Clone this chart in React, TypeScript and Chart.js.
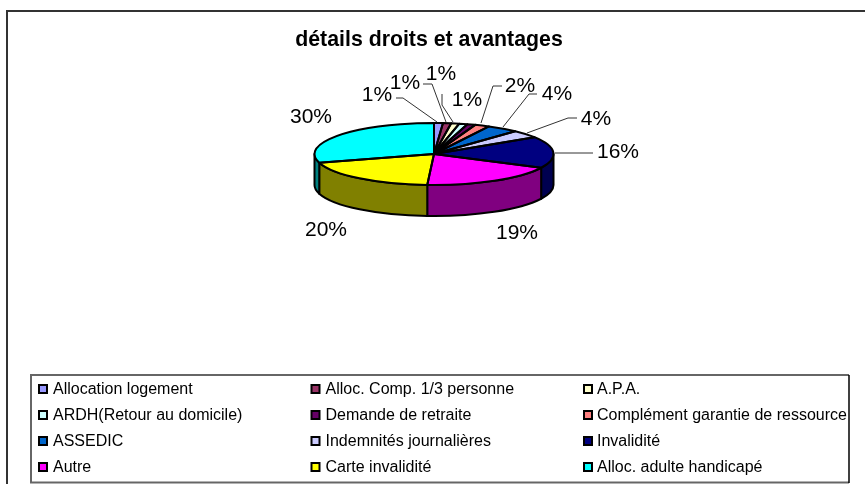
import React, { useEffect, useRef } from "react";
import { Chart, registerables } from "chart.js";

Chart.register(...registerables);

const title = "détails droits et avantages";
const categories = [
  "Allocation logement", "Alloc. Comp. 1/3 personne", "A.P.A.",
  "ARDH(Retour au domicile)", "Demande de retraite", "Complément garantie de ressource",
  "ASSEDIC", "Indemnités journalières", "Invalidité",
  "Autre", "Carte invalidité", "Alloc. adulte handicapé",
];
const values = [1.2, 1.1, 1.1, 1.1, 1.1, 2, 4.3, 4, 16.4, 18.6, 19.6, 29.5];
const colors = [
  "#9999FF", "#993366", "#FFFFCC", "#CCFFFF", "#660066", "#FF8080",
  "#0066CC", "#CCCCFF", "#000080", "#FF00FF", "#FFFF00", "#00FFFF",
];
const sideColors = [
  "#4D4D80", "#4D1A33", "#808066", "#668080", "#330033", "#804040",
  "#003366", "#666680", "#000050", "#800080", "#808000", "#008080",
];

// Label placement: index into values, text centre, optional leader polyline
const labelLayout: { i: number; x: number; y: number; line?: number[][] }[] = [
  { i: 0, x: 377, y: 95, line: [[396, 98], [403, 98], [437, 122]] },
  { i: 1, x: 405, y: 83, line: [[423, 84], [432, 84], [446, 122]] },
  { i: 2, x: 441, y: 74, line: [[442, 94], [442, 105], [453, 122]] },
  { i: 3, x: 467, y: 100 },
  { i: 5, x: 520, y: 86, line: [[502, 86], [493, 86], [481, 123]] },
  { i: 6, x: 557, y: 94, line: [[537, 94], [529, 94], [503, 127]] },
  { i: 7, x: 596, y: 119, line: [[577, 118], [568, 118], [527, 133]] },
  { i: 8, x: 618, y: 152, line: [[593, 153], [555, 153]] },
  { i: 9, x: 517, y: 233 },
  { i: 10, x: 326, y: 230 },
  { i: 11, x: 311, y: 117 },
];

const CX = 434;
const CY = 154;
const R = 119.5;
const SQUASH = 0.26;
const DEPTH = 31;
const LEGEND_BOX_X = [43, 315.5, 588];
const LEGEND_TEXT_X = [53, 325.5, 597];
const LEGEND_ROW_Y = [389, 415, 441, 467];

const pie3d = {
  id: "pie3d",
  beforeDatasetsDraw(chart: any) {
    const ctx = chart.ctx;
    const arcs = chart.getDatasetMeta(0).data;
    const rad = arcs[0].outerRadius;
    const ry = rad * SQUASH;
    ctx.save();
    ctx.lineWidth = 2;
    ctx.strokeStyle = "#000";
    ctx.lineJoin = "round";
    arcs.forEach((arc: any, idx: number) => {
      const a = Math.max(arc.startAngle, 0);
      const b = Math.min(arc.endAngle, Math.PI);
      if (b <= a) return;
      ctx.beginPath();
      ctx.ellipse(arc.x, arc.y, rad, ry, 0, a, b);
      ctx.ellipse(arc.x, arc.y + DEPTH, rad, ry, 0, b, a, true);
      ctx.closePath();
      ctx.fillStyle = sideColors[idx];
      ctx.fill();
      ctx.stroke();
    });
    ctx.restore();
    ctx.save();
    const m = arcs[0];
    ctx.translate(m.x, m.y);
    ctx.scale(1, SQUASH);
    ctx.translate(-m.x, -m.y);
  },
  afterDatasetsDraw(chart: any) {
    const ctx = chart.ctx;
    ctx.restore();
    const arcs = chart.getDatasetMeta(0).data;
    ctx.save();
    ctx.lineWidth = 2;
    ctx.strokeStyle = "#000";
    ctx.lineJoin = "round";
    arcs.forEach((arc: any) => {
      ctx.beginPath();
      ctx.moveTo(arc.x, arc.y);
      ctx.ellipse(arc.x, arc.y, arc.outerRadius, arc.outerRadius * SQUASH, 0, arc.startAngle, arc.endAngle);
      ctx.closePath();
      ctx.stroke();
    });
    ctx.restore();
  },
  afterDraw(chart: any) {
    const ctx = chart.ctx;
    ctx.save();
    // outer frame: only left and top edges are visible in the crop
    ctx.strokeStyle = "#333";
    ctx.lineWidth = 2;
    ctx.beginPath();
    ctx.moveTo(7, 490);
    ctx.lineTo(7, 11);
    ctx.lineTo(865, 11);
    ctx.stroke();
    // legend frame
    ctx.strokeStyle = "#666";
    ctx.beginPath();
    ctx.moveTo(849, 375);
    ctx.lineTo(31, 375);
    ctx.lineTo(31, 482.5);
    ctx.lineTo(849, 482.5);
    ctx.stroke();
    ctx.strokeStyle = "#000";
    ctx.lineWidth = 1.5;
    ctx.beginPath();
    ctx.moveTo(849, 375);
    ctx.lineTo(849, 483);
    ctx.stroke();
    // leaders
    ctx.strokeStyle = "#333";
    ctx.lineWidth = 1;
    labelLayout.forEach((l) => {
      if (!l.line) return;
      ctx.beginPath();
      l.line.forEach((p, k) => (k ? ctx.lineTo(p[0], p[1]) : ctx.moveTo(p[0], p[1])));
      ctx.stroke();
    });
    // percent labels
    const total = values.reduce((s, v) => s + v, 0);
    ctx.fillStyle = "#000";
    ctx.font = '21px "Liberation Sans"';
    ctx.textAlign = "center";
    ctx.textBaseline = "middle";
    labelLayout.forEach((l) => {
      ctx.fillText(Math.round((values[l.i] / total) * 100) + "%", l.x, l.y);
    });
    // legend
    ctx.font = '16px "Liberation Sans"';
    ctx.textAlign = "left";
    categories.forEach((c, i) => {
      const bx = LEGEND_BOX_X[i % 3];
      const row = LEGEND_ROW_Y[Math.floor(i / 3)];
      ctx.fillStyle = colors[i];
      ctx.fillRect(bx - 4, row - 4, 8, 8);
      ctx.strokeStyle = "#000";
      ctx.lineWidth = 2;
      ctx.strokeRect(bx - 4, row - 4, 8, 8);
      ctx.fillStyle = "#000";
      ctx.fillText(c, LEGEND_TEXT_X[i % 3], row + 0.5);
    });
    ctx.restore();
  },
};

export default function App() {
  const ref = useRef<HTMLCanvasElement>(null);
  useEffect(() => {
    document.body.style.margin = "0";
    const chart = new Chart(ref.current!, {
      type: "pie",
      data: {
        labels: categories,
        datasets: [{ data: values, backgroundColor: colors, borderWidth: 0 }],
      },
      options: {
        responsive: false,
        animation: false,
        devicePixelRatio: 1,
        layout: {
          padding: {
            left: CX - R,
            right: 865 - CX - R,
            top: CY - R,
            bottom: 484 - CY - R,
          },
        },
        plugins: {
          legend: { display: false },
          tooltip: { enabled: false },
          title: { display: false, text: title },
        },
      },
      plugins: [
        pie3d,
        {
          id: "titleText",
          afterDraw(c: any) {
            const ctx = c.ctx;
            ctx.save();
            ctx.font = 'bold 21.3px "Liberation Sans"';
            ctx.fillStyle = "#000";
            ctx.textAlign = "center";
            ctx.textBaseline = "middle";
            ctx.fillText(title, 429, 40);
            ctx.restore();
          },
        },
        {
          id: "bg",
          beforeDraw(c: any) {
            c.ctx.save();
            c.ctx.fillStyle = "#fff";
            c.ctx.fillRect(0, 0, c.width, c.height);
            c.ctx.restore();
          },
        },
      ],
    } as any);
    return () => chart.destroy();
  }, []);
  return (
    <div style={{ position: "fixed", left: 0, top: 0, width: 865, height: 484 }}>
      <canvas ref={ref} width={865} height={484} style={{ display: "block" }} />
    </div>
  );
}
